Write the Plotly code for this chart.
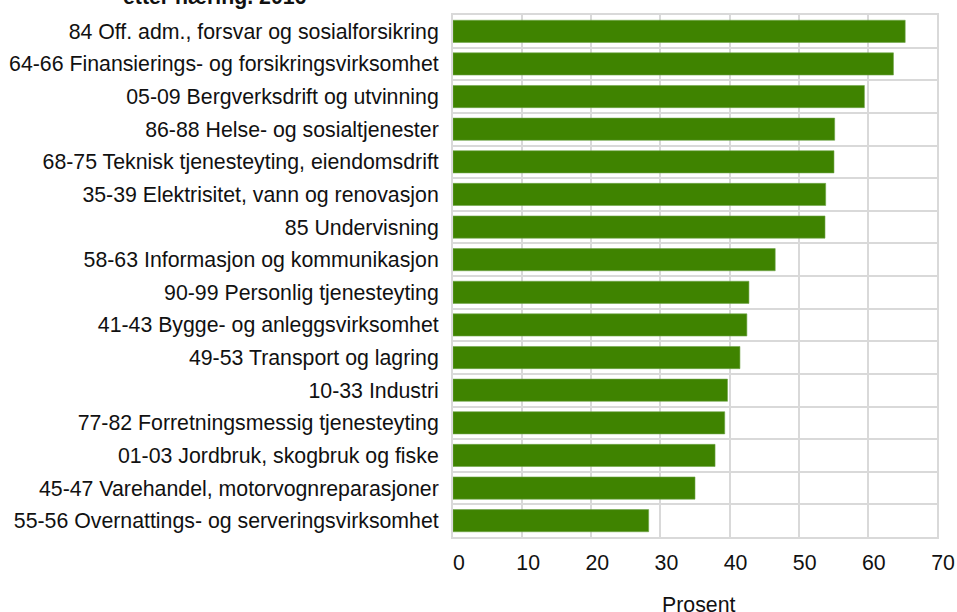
import plotly.graph_objects as go

categories = [
    "84 Off. adm., forsvar og sosialforsikring",
    "64-66 Finansierings- og forsikringsvirksomhet",
    "05-09 Bergverksdrift og utvinning",
    "86-88 Helse- og sosialtjenester",
    "68-75 Teknisk tjenesteyting, eiendomsdrift",
    "35-39 Elektrisitet, vann og renovasjon",
    "85 Undervisning",
    "58-63 Informasjon og kommunikasjon",
    "90-99 Personlig tjenesteyting",
    "41-43 Bygge- og anleggsvirksomhet",
    "49-53 Transport og lagring",
    "10-33 Industri",
    "77-82 Forretningsmessig tjenesteyting",
    "01-03 Jordbruk, skogbruk og fiske",
    "45-47 Varehandel, motorvognreparasjoner",
    "55-56 Overnattings- og serveringsvirksomhet",
]
values = [65.4, 63.7, 59.5, 55.2, 55.1, 53.9, 53.8, 46.6, 42.8, 42.5, 41.5, 39.7, 39.3, 37.9, 35.0, 28.3]
x_ticks = [0, 10, 20, 30, 40, 50, 60, 70]
title_text = "etter næring. 2016"
x_title = "Prosent"

FONT = "Liberation Sans, Arial, sans-serif"
FS = 21.3
GRID = "#d9d9d9"

fig = go.Figure(go.Bar(
    x=values, y=categories, orientation="h",
    marker=dict(color="#3f8300", line=dict(color="#6fa448", width=0.6)),
))

fig.update_layout(
    width=957, height=612,
    margin=dict(l=453, r=20, t=15, b=75),
    paper_bgcolor="white", plot_bgcolor="white",
    bargap=0.32,
    showlegend=False,
    font=dict(family=FONT, size=FS, color="#111111"),
    annotations=[
        dict(
            text="<b>" + title_text + "</b>", xref="paper", yref="paper",
            x=(215 - 453) / 484, y=1, xanchor="center", yanchor="bottom",
            yshift=4, showarrow=False, font=dict(family=FONT, size=FS, color="#111111"),
        ),
        dict(
            text=x_title, xref="paper", yref="paper",
            x=0.5, y=0, xanchor="center", yanchor="top", xshift=3,
            yshift=-54, showarrow=False, font=dict(family=FONT, size=FS, color="#111111"),
        ),
    ],
)

fig.update_xaxes(
    range=[0, 70], tickvals=x_ticks, ticktext=[str(v) for v in x_ticks],
    showgrid=True, gridcolor=GRID, gridwidth=2,
    showline=True, linecolor=GRID, linewidth=2, mirror=True,
    zeroline=False, ticks="", ticklabelstandoff=5, ticklabelshift=6,
    automargin=False,
    tickfont=dict(family=FONT, size=FS),
)
fig.update_yaxes(
    autorange="reversed", tickson="boundaries",
    showgrid=True, gridcolor=GRID, gridwidth=2,
    showline=True, linecolor=GRID, linewidth=2, mirror=True,
    ticks="", ticklabelstandoff=8, automargin=False,
    tickfont=dict(family=FONT, size=FS),
)

fig.write_html("out.html", config={"displayModeBar": False},
               post_script="document.body.style.margin='0';")
